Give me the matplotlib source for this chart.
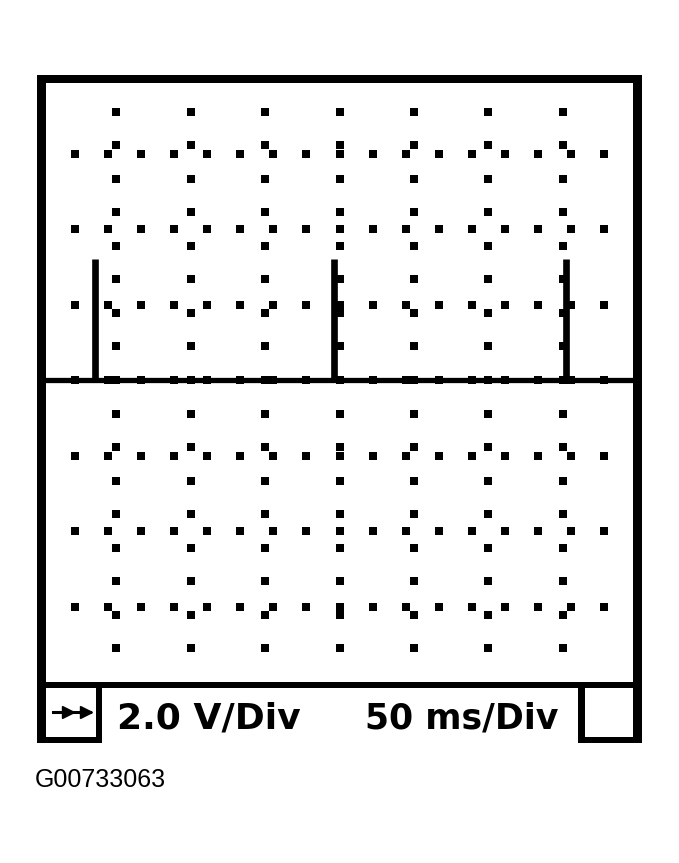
import numpy as np
import matplotlib
matplotlib.use("Agg")
import matplotlib.pyplot as plt
from matplotlib.patches import Rectangle

# ---- data ----
ms_per_div = 50.0
volts_per_div = 2.0
n_div_x = 8
n_div_y = 8
trace_time_ms = [0.0, 400.0]
trace_volts = [0.0, 0.0]
spike_times_ms = [35.7, 196.5, 352.3]
spike_peaks_v = [3.2, 3.2, 3.2]
scale_labels = ["2.0 V/Div", "50 ms/Div"]
figure_id = "G00733063"

W, H = 679, 863
fig = plt.figure(figsize=(W / 100, H / 100), dpi=100)

def px_axes(l, t, r, b):
    return [l / W, 1 - b / H, (r - l) / W, (b - t) / H]

# ---- scope screen ----
ax = fig.add_axes(px_axes(42, 78, 637, 682))
xmax = n_div_x * ms_per_div
ymax = n_div_y / 2 * volts_per_div
ax.set_xlim(0, xmax)
ax.set_ylim(-ymax, ymax)
ax.axis("off")

# dotted graticule: dots on major lines, spaced 4/9 division
step_x = ms_per_div * 4 / 9
step_y = volts_per_div * 4 / 9
cx = xmax / 2
row_x = cx + step_x * np.arange(-8, 9)
col_y = step_y * np.arange(-8, 9)
major_x = np.arange(1, n_div_x) * ms_per_div
major_y = (np.arange(1, n_div_y) - n_div_y / 2) * volts_per_div
for yv in major_y:
    ax.plot(row_x, np.full_like(row_x, yv), ls="none", marker="s",
            ms=5.2, color="black", mew=0)
for xv in major_x:
    ax.plot(np.full_like(col_y, xv), col_y, ls="none", marker="s",
            ms=5.2, color="black", mew=0)

# trace
ax.plot(trace_time_ms, trace_volts, color="black", lw=3.8,
        solid_capstyle="butt", zorder=5)
ax.vlines(spike_times_ms, 0, spike_peaks_v, color="black", lw=4.8, zorder=5)

# ---- frame / bezel overlay in pixel coordinates ----
ov = fig.add_axes([0, 0, 1, 1])
ov.set_xlim(0, W)
ov.set_ylim(H, 0)
ov.axis("off")
ov.patch.set_alpha(0)

def bar(x0, y0, x1, y1):
    ov.add_patch(Rectangle((x0, y0), x1 - x0, y1 - y0, color="black", lw=0))

bar(37, 75, 642, 83)      # top
bar(37, 75, 46, 743)      # left
bar(633, 75, 642, 743)    # right
bar(37, 682, 642, 688)    # separator
bar(96, 682, 102, 743)    # left box right edge
bar(37, 737, 102, 743)    # left box bottom
bar(578, 682, 585, 743)   # right box left edge
bar(578, 737, 642, 743)   # right box bottom

# double-arrow icon
ov.plot([53, 90], [712, 712], color="black", lw=2.2)
ov.plot([68, 86], [712, 712], ls="none", marker=">", ms=8, color="black")

ov.text(117, 728, scale_labels[0], fontsize=26, fontweight="bold",
        family="DejaVu Sans", va="baseline", ha="left")
ov.text(365, 728, scale_labels[1], fontsize=25, fontweight="bold",
        family="DejaVu Sans", va="baseline", ha="left")

ov.text(35, 787, figure_id, fontsize=18, family="Liberation Sans",
        va="baseline", ha="left")

fig.savefig("out.png", dpi=100, facecolor="white")
